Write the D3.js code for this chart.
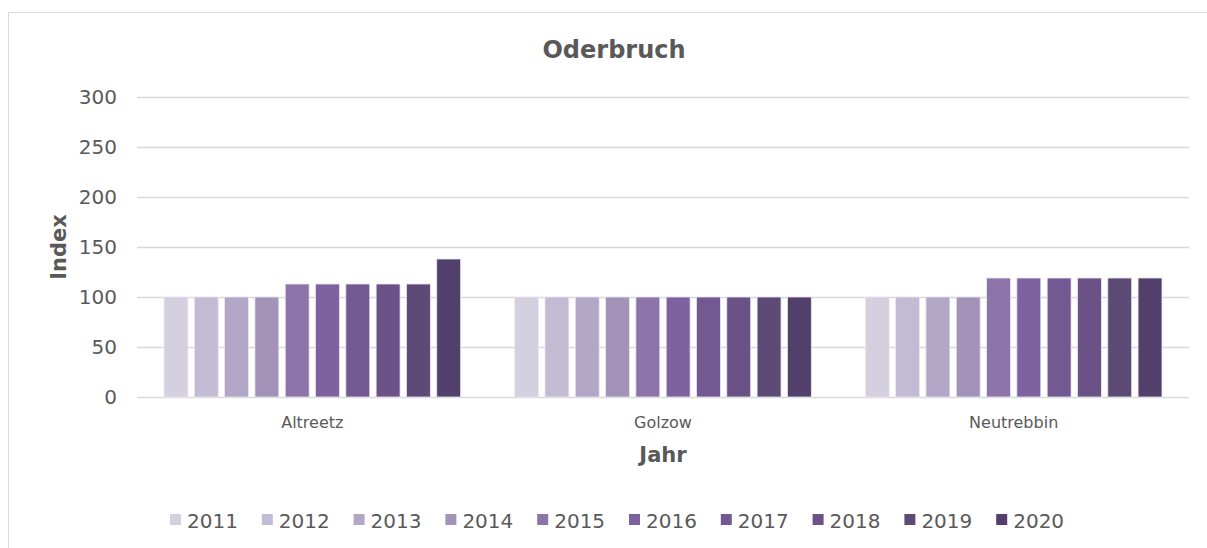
<!DOCTYPE html>
<html>
<head>
<meta charset="utf-8">
<script src="https://cdn.jsdelivr.net/npm/d3@7"></script>
<style>
  html, body { margin: 0; padding: 0; background: #fff; }
  svg { display: block; font-family: "DejaVu Sans", Verdana, sans-serif; }
</style>
</head>
<body>
<svg id="chart" width="1207" height="548"></svg>
<script>
const categories = ["Altreetz", "Golzow", "Neutrebbin"];
const years = ["2011", "2012", "2013", "2014", "2015", "2016", "2017", "2018", "2019", "2020"];
const altreetz = [100, 100, 100, 100, 113, 113, 113, 113, 113, 138];
const golzow = [100, 100, 100, 100, 100, 100, 100, 100, 100, 100];
const neutrebbin = [100, 100, 100, 100, 119, 119, 119, 119, 119, 119];
const yTicks = [0, 50, 100, 150, 200, 250, 300];
const colors = ["#d5d0df", "#c3bbd3", "#b2a7c6", "#a393b9", "#8c74a8", "#7e62a0", "#735992", "#6a5287", "#5e4a77", "#533f6c"];

const seriesByCategory = [altreetz, golzow, neutrebbin];
const rows = categories.map((c, i) => ({ category: c, values: seriesByCategory[i] }));

const svg = d3.select("#chart");
const textColor = "#595959";

// outer chart border
svg.append("rect")
  .attr("x", 8.5).attr("y", 12.5)
  .attr("width", 1220).attr("height", 560)
  .attr("fill", "#fff").attr("stroke", "#d9d9d9").attr("stroke-width", 1);

const plot = { left: 137, right: 1189, top: 97, bottom: 397 };

const y = d3.scaleLinear().domain([0, 300]).range([plot.bottom, plot.top]);
const x0 = d3.scaleBand().domain(categories).range([plot.left, plot.right]).padding(0);
const x1 = d3.scaleBand().domain(years).range([27, x0.bandwidth() - 27]).paddingInner(0.21).paddingOuter(0);

// gridlines
svg.append("g")
  .selectAll("line")
  .data(yTicks)
  .join("line")
  .attr("x1", plot.left).attr("x2", plot.right)
  .attr("y1", d => Math.round(y(d)) + 0.5).attr("y2", d => Math.round(y(d)) + 0.5)
  .attr("stroke", "#d9d9d9").attr("stroke-width", 1.3);

// y axis labels
const yAxis = d3.axisLeft(y).tickValues(yTicks).tickSize(0).tickPadding(0);
const yg = svg.append("g").attr("transform", `translate(117,0)`).call(yAxis);
yg.select(".domain").remove();
yg.selectAll("text")
  .attr("fill", textColor)
  .style("font-size", "20px")
  .style("font-family", "'DejaVu Sans', Verdana, sans-serif");

// bars
const groups = svg.append("g")
  .selectAll("g")
  .data(rows)
  .join("g")
  .attr("transform", d => `translate(${x0(d.category)},0)`);

groups.selectAll("rect")
  .data(d => d.values.map((v, i) => ({ year: years[i], value: v, color: colors[i] })))
  .join("rect")
  .attr("x", d => x1(d.year))
  .attr("y", d => y(d.value))
  .attr("width", x1.bandwidth())
  .attr("height", d => y(0) - y(d.value))
  .attr("fill", d => d.color)
  .attr("stroke", "#ece8f2")
  .attr("stroke-width", 0.8);

// x axis labels
const xAxis = d3.axisBottom(x0).tickSize(0).tickPadding(0);
const xg = svg.append("g").attr("transform", `translate(0,${plot.bottom + 25})`).call(xAxis);
xg.select(".domain").remove();
xg.selectAll("text")
  .attr("fill", textColor)
  .attr("dy", "0.35em")
  .style("font-size", "16px")
  .style("font-family", "'DejaVu Sans', Verdana, sans-serif");

// title
svg.append("text")
  .attr("x", 614).attr("y", 58)
  .attr("text-anchor", "middle")
  .attr("fill", textColor)
  .style("font-size", "24px").style("font-weight", "bold")
  .text("Oderbruch");

// axis titles
svg.append("text")
  .attr("x", (plot.left + plot.right) / 2).attr("y", 462)
  .attr("text-anchor", "middle")
  .attr("fill", textColor)
  .style("font-size", "21px").style("font-weight", "bold")
  .text("Jahr");

svg.append("text")
  .attr("transform", `translate(66,247) rotate(-90)`)
  .attr("text-anchor", "middle")
  .attr("fill", textColor)
  .style("font-size", "21px").style("font-weight", "bold")
  .text("Index");

// legend
const legend = svg.append("g")
  .selectAll("g")
  .data(years)
  .join("g")
  .attr("transform", (d, i) => `translate(${170 + i * 91.8},521)`);
legend.append("rect")
  .attr("x", 0).attr("y", -7)
  .attr("width", 11).attr("height", 11)
  .attr("fill", (d, i) => colors[i]);
legend.append("text")
  .attr("x", 17).attr("y", 0)
  .attr("dy", "0.35em")
  .attr("fill", textColor)
  .style("font-size", "20px")
  .text(d => d);
</script>
</body>
</html>
